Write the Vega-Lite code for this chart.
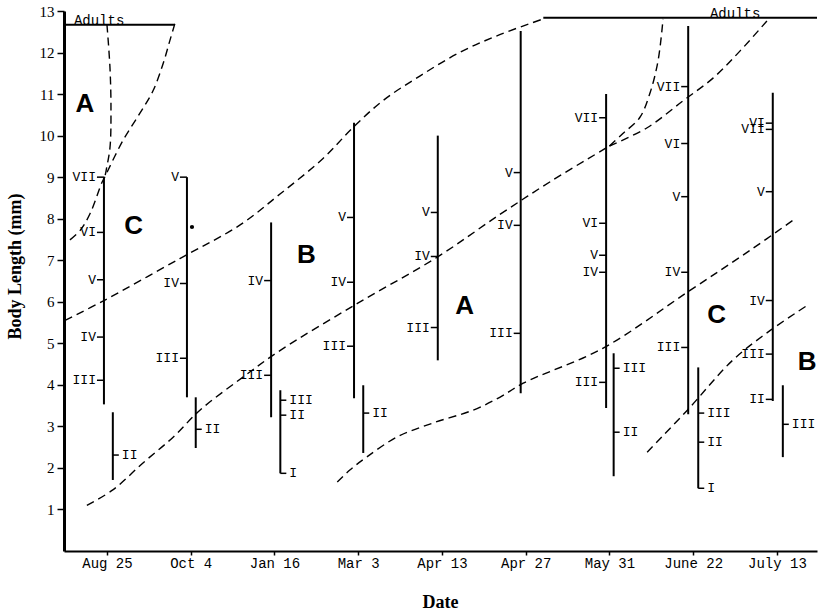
{
  "$schema": "https://vega.github.io/schema/vega-lite/v6.json",
  "width": 753,
  "height": 540,
  "autosize": {"type": "none"},
  "padding": {"left": 64, "top": 11, "right": 12, "bottom": 59},
  "background": "white",
  "config": {
    "view": {"stroke": null},
    "axis": {"grid": false, "domainColor": "black", "tickColor": "black", "labelColor": "black", "titleColor": "black", "labelFlush": false, "labelOverlap": false, "labelBound": false},
    "axisX": {
      "labelFont": "Liberation Mono", "labelFontSize": 14, "labelPadding": 1,
      "tickSize": 4, "tickWidth": 1.5, "domainWidth": 2,
      "titleFont": "Liberation Serif", "titleFontSize": 18, "titleFontWeight": "bold",
      "titleX": 376, "titleY": 56, "titleBaseline": "alphabetic", "titleAlign": "center"
    },
    "axisY": {
      "labelFont": "Liberation Serif", "labelFontSize": 15, "labelPadding": 3,
      "tickSize": 7, "tickWidth": 1.5, "domainWidth": 3,
      "titleFont": "Liberation Serif", "titleFontSize": 18, "titleFontWeight": "bold",
      "titleAngle": -90, "titleX": -44, "titleY": 255, "titleBaseline": "alphabetic", "titleAlign": "center"
    }
  },
  "datasets": {
    "bars": [
      {"x": 0.964, "y1": 3.53, "y2": 9.0},
      {"x": 1.07, "y1": 1.71, "y2": 3.34},
      {"x": 1.955, "y1": 3.70, "y2": 9.0},
      {"x": 2.06, "y1": 2.48, "y2": 3.70},
      {"x": 2.96, "y1": 3.22, "y2": 7.91},
      {"x": 3.07, "y1": 1.87, "y2": 3.87},
      {"x": 3.95, "y1": 3.68, "y2": 10.31},
      {"x": 4.06, "y1": 2.36, "y2": 3.99},
      {"x": 4.95, "y1": 4.59, "y2": 10.0},
      {"x": 5.94, "y1": 3.80, "y2": 12.52},
      {"x": 6.96, "y1": 3.44, "y2": 11.0},
      {"x": 7.05, "y1": 1.80, "y2": 4.76},
      {"x": 7.94, "y1": 3.29, "y2": 12.64},
      {"x": 8.06, "y1": 1.51, "y2": 4.42},
      {"x": 8.95, "y1": 3.61, "y2": 11.03},
      {"x": 9.07, "y1": 2.26, "y2": 3.99}
    ],
    "ticks": [
      {"x": 0.964, "y": 9.0, "label": "VII", "side": "L"},
      {"x": 0.964, "y": 7.67, "label": "VI", "side": "L"},
      {"x": 0.964, "y": 6.53, "label": "V", "side": "L"},
      {"x": 0.964, "y": 5.15, "label": "IV", "side": "L"},
      {"x": 0.964, "y": 4.11, "label": "III", "side": "L"},
      {"x": 1.07, "y": 2.31, "label": "II", "side": "R"},
      {"x": 1.955, "y": 9.0, "label": "V", "side": "L"},
      {"x": 1.955, "y": 6.44, "label": "IV", "side": "L"},
      {"x": 1.955, "y": 4.64, "label": "III", "side": "L"},
      {"x": 2.06, "y": 2.93, "label": "II", "side": "R"},
      {"x": 2.96, "y": 6.51, "label": "IV", "side": "L"},
      {"x": 2.96, "y": 4.23, "label": "III", "side": "L"},
      {"x": 3.07, "y": 3.63, "label": "III", "side": "R"},
      {"x": 3.07, "y": 3.27, "label": "II", "side": "R"},
      {"x": 3.07, "y": 1.87, "label": "I", "side": "R"},
      {"x": 3.95, "y": 8.03, "label": "V", "side": "L"},
      {"x": 3.95, "y": 6.47, "label": "IV", "side": "L"},
      {"x": 3.95, "y": 4.93, "label": "III", "side": "L"},
      {"x": 4.06, "y": 3.32, "label": "II", "side": "R"},
      {"x": 4.95, "y": 8.15, "label": "V", "side": "L"},
      {"x": 4.95, "y": 7.09, "label": "IV", "side": "L"},
      {"x": 4.95, "y": 5.38, "label": "III", "side": "L"},
      {"x": 5.94, "y": 9.11, "label": "V", "side": "L"},
      {"x": 5.94, "y": 7.84, "label": "IV", "side": "L"},
      {"x": 5.94, "y": 5.24, "label": "III", "side": "L"},
      {"x": 6.96, "y": 10.43, "label": "VII", "side": "L"},
      {"x": 6.96, "y": 7.89, "label": "VI", "side": "L"},
      {"x": 6.96, "y": 7.12, "label": "V", "side": "L"},
      {"x": 6.96, "y": 6.71, "label": "IV", "side": "L"},
      {"x": 6.96, "y": 4.06, "label": "III", "side": "L"},
      {"x": 7.05, "y": 4.40, "label": "III", "side": "R"},
      {"x": 7.05, "y": 2.86, "label": "II", "side": "R"},
      {"x": 7.94, "y": 11.18, "label": "VII", "side": "L"},
      {"x": 7.94, "y": 9.81, "label": "VI", "side": "L"},
      {"x": 7.94, "y": 8.53, "label": "V", "side": "L"},
      {"x": 7.94, "y": 6.71, "label": "IV", "side": "L"},
      {"x": 7.94, "y": 4.90, "label": "III", "side": "L"},
      {"x": 8.06, "y": 3.32, "label": "III", "side": "R"},
      {"x": 8.06, "y": 2.62, "label": "II", "side": "R"},
      {"x": 8.06, "y": 1.51, "label": "I", "side": "R"},
      {"x": 8.95, "y": 10.30, "label": "VI", "side": "L"},
      {"x": 8.95, "y": 10.15, "label": "VII", "side": "L"},
      {"x": 8.95, "y": 8.65, "label": "V", "side": "L"},
      {"x": 8.95, "y": 6.03, "label": "IV", "side": "L"},
      {"x": 8.95, "y": 4.74, "label": "III", "side": "L"},
      {"x": 8.95, "y": 3.65, "label": "II", "side": "L"},
      {"x": 9.07, "y": 3.05, "label": "III", "side": "R"}
    ],
    "curves": [
      {"curve": "a1", "i": 1, "x": 1.0, "y": 12.67},
      {"curve": "a1", "i": 2, "x": 1.036, "y": 11.63},
      {"curve": "a1", "i": 3, "x": 1.048, "y": 10.6},
      {"curve": "a1", "i": 4, "x": 1.036, "y": 9.71},
      {"curve": "a1", "i": 5, "x": 0.99, "y": 9.16},
      {"curve": "a1", "i": 6, "x": 0.976, "y": 9.01},
      {"curve": "a2", "i": 1, "x": 1.81, "y": 12.69},
      {"curve": "a2", "i": 2, "x": 1.75, "y": 12.28},
      {"curve": "a2", "i": 3, "x": 1.67, "y": 11.73},
      {"curve": "a2", "i": 4, "x": 1.55, "y": 11.08},
      {"curve": "a2", "i": 5, "x": 1.39, "y": 10.53},
      {"curve": "a2", "i": 6, "x": 1.19, "y": 9.88},
      {"curve": "a2", "i": 7, "x": 0.976, "y": 9.01},
      {"curve": "a3", "i": 1, "x": 0.976, "y": 9.01},
      {"curve": "a3", "i": 2, "x": 0.94, "y": 8.87},
      {"curve": "a3", "i": 3, "x": 0.80, "y": 8.13},
      {"curve": "a3", "i": 4, "x": 0.68, "y": 7.72},
      {"curve": "a3", "i": 5, "x": 0.52, "y": 7.43},
      {"curve": "u", "i": 1, "x": 0.50, "y": 5.55},
      {"curve": "u", "i": 2, "x": 0.964, "y": 6.03},
      {"curve": "u", "i": 3, "x": 1.87, "y": 7.04},
      {"curve": "u", "i": 4, "x": 2.59, "y": 7.85},
      {"curve": "u", "i": 5, "x": 3.07, "y": 8.6},
      {"curve": "u", "i": 6, "x": 3.58, "y": 9.45},
      {"curve": "u", "i": 7, "x": 3.94, "y": 10.2},
      {"curve": "u", "i": 8, "x": 4.3, "y": 10.85},
      {"curve": "u", "i": 9, "x": 4.74, "y": 11.44},
      {"curve": "u", "i": 10, "x": 5.21, "y": 12.0},
      {"curve": "u", "i": 11, "x": 5.69, "y": 12.43},
      {"curve": "u", "i": 12, "x": 6.21, "y": 12.81},
      {"curve": "m", "i": 1, "x": 0.76, "y": 1.1},
      {"curve": "m", "i": 2, "x": 1.07, "y": 1.47},
      {"curve": "m", "i": 3, "x": 1.43, "y": 2.12},
      {"curve": "m", "i": 4, "x": 1.79, "y": 2.74},
      {"curve": "m", "i": 5, "x": 2.11, "y": 3.39},
      {"curve": "m", "i": 6, "x": 2.62, "y": 4.18},
      {"curve": "m", "i": 7, "x": 3.07, "y": 4.83},
      {"curve": "m", "i": 8, "x": 3.99, "y": 5.96},
      {"curve": "m", "i": 9, "x": 4.94, "y": 7.07},
      {"curve": "m", "i": 10, "x": 5.69, "y": 8.1},
      {"curve": "m", "i": 11, "x": 6.3, "y": 8.9},
      {"curve": "m", "i": 12, "x": 7.0, "y": 9.75},
      {"curve": "m1", "i": 1, "x": 7.0, "y": 9.75},
      {"curve": "m1", "i": 2, "x": 7.16, "y": 10.05},
      {"curve": "m1", "i": 3, "x": 7.36, "y": 10.43},
      {"curve": "m1", "i": 4, "x": 7.48, "y": 11.0},
      {"curve": "m1", "i": 5, "x": 7.58, "y": 11.8},
      {"curve": "m1", "i": 6, "x": 7.64, "y": 12.81},
      {"curve": "m2", "i": 1, "x": 7.0, "y": 9.75},
      {"curve": "m2", "i": 2, "x": 7.45, "y": 10.19},
      {"curve": "m2", "i": 3, "x": 7.88, "y": 10.84},
      {"curve": "m2", "i": 4, "x": 8.24, "y": 11.39},
      {"curve": "m2", "i": 5, "x": 8.56, "y": 12.04},
      {"curve": "m2", "i": 6, "x": 8.88, "y": 12.76},
      {"curve": "l", "i": 1, "x": 3.75, "y": 1.66},
      {"curve": "l", "i": 2, "x": 3.90, "y": 1.95},
      {"curve": "l", "i": 3, "x": 4.10, "y": 2.26},
      {"curve": "l", "i": 4, "x": 4.46, "y": 2.74},
      {"curve": "l", "i": 5, "x": 4.89, "y": 3.08},
      {"curve": "l", "i": 6, "x": 5.37, "y": 3.39},
      {"curve": "l", "i": 7, "x": 5.69, "y": 3.70},
      {"curve": "l", "i": 8, "x": 5.97, "y": 4.04},
      {"curve": "l", "i": 9, "x": 6.92, "y": 4.88},
      {"curve": "l", "i": 10, "x": 7.93, "y": 6.23},
      {"curve": "l", "i": 11, "x": 8.68, "y": 7.24},
      {"curve": "l", "i": 12, "x": 9.19, "y": 7.96},
      {"curve": "r", "i": 1, "x": 7.45, "y": 2.38},
      {"curve": "r", "i": 2, "x": 7.93, "y": 3.39},
      {"curve": "r", "i": 3, "x": 8.47, "y": 4.59},
      {"curve": "r", "i": 4, "x": 8.92, "y": 5.31},
      {"curve": "r", "i": 5, "x": 9.36, "y": 5.91}
    ],
    "adults": [
      {"x": 0.487, "x2": 1.81, "y": 12.67, "tx": 0.606, "label": "Adults"},
      {"x": 6.21, "x2": 9.478, "y": 12.84, "tx": 8.2, "label": "Adults"}
    ],
    "letters": [
      {"x": 0.737, "y": 10.76, "label": "A"},
      {"x": 1.32, "y": 7.82, "label": "C"},
      {"x": 3.38, "y": 7.13, "label": "B"},
      {"x": 5.27, "y": 5.90, "label": "A"},
      {"x": 8.28, "y": 5.68, "label": "C"},
      {"x": 9.36, "y": 4.55, "label": "B"}
    ],
    "blob": [{"x": 2.015, "y": 7.80}]
  },
  "layer": [
    {
      "data": {"name": "bars"},
      "mark": {"type": "rule", "strokeWidth": 2, "color": "black"},
      "encoding": {
        "x": {"field": "x", "type": "quantitative", "title": "Date",
          "scale": {"domain": [0.487, 9.478], "nice": false, "zero": false},
          "axis": {"values": [1, 2, 3, 4, 5, 6, 7, 8, 9],
            "labelExpr": "['Aug 25','Oct 4','Jan 16','Mar 3','Apr 13','Apr 27','May 31','June 22','July 13'][datum.value - 1]"}},
        "y": {"field": "y1", "type": "quantitative", "title": "Body Length (mm)",
          "scale": {"domain": [0, 13], "nice": false, "zero": false},
          "axis": {"values": [1, 2, 3, 4, 5, 6, 7, 8, 9, 10, 11, 12, 13]}},
        "y2": {"field": "y2"}
      }
    },
    {
      "data": {"name": "ticks"},
      "transform": [{"filter": "datum.side == 'L'"}],
      "mark": {"type": "rule", "strokeWidth": 1.5, "color": "black", "x2Offset": -7},
      "encoding": {
        "x": {"field": "x", "type": "quantitative", "title": "Date"},
        "x2": {"field": "x"},
        "y": {"field": "y", "type": "quantitative", "title": "Body Length (mm)"}
      }
    },
    {
      "data": {"name": "ticks"},
      "transform": [{"filter": "datum.side == 'R'"}],
      "mark": {"type": "rule", "strokeWidth": 1.5, "color": "black", "x2Offset": 6},
      "encoding": {
        "x": {"field": "x", "type": "quantitative", "title": "Date"},
        "x2": {"field": "x"},
        "y": {"field": "y", "type": "quantitative", "title": "Body Length (mm)"}
      }
    },
    {
      "data": {"name": "ticks"},
      "transform": [{"filter": "datum.side == 'L'"}],
      "mark": {"type": "text", "align": "right", "baseline": "middle", "dx": -8, "font": "Liberation Mono", "fontSize": 13, "color": "black"},
      "encoding": {
        "x": {"field": "x", "type": "quantitative", "title": "Date"},
        "y": {"field": "y", "type": "quantitative", "title": "Body Length (mm)"},
        "text": {"field": "label"}
      }
    },
    {
      "data": {"name": "ticks"},
      "transform": [{"filter": "datum.side == 'R'"}],
      "mark": {"type": "text", "align": "left", "baseline": "middle", "dx": 9, "font": "Liberation Mono", "fontSize": 13, "color": "black"},
      "encoding": {
        "x": {"field": "x", "type": "quantitative", "title": "Date"},
        "y": {"field": "y", "type": "quantitative", "title": "Body Length (mm)"},
        "text": {"field": "label"}
      }
    },
    {
      "data": {"name": "curves"},
      "mark": {"type": "line", "color": "black", "strokeWidth": 1.4, "strokeDash": [8, 5], "interpolate": "catmull-rom"},
      "encoding": {
        "x": {"field": "x", "type": "quantitative", "title": "Date"},
        "y": {"field": "y", "type": "quantitative", "title": "Body Length (mm)"},
        "detail": {"field": "curve"},
        "order": {"field": "i", "type": "quantitative"}
      }
    },
    {
      "data": {"name": "adults"},
      "mark": {"type": "rule", "strokeWidth": 2, "color": "black"},
      "encoding": {
        "x": {"field": "x", "type": "quantitative", "title": "Date"},
        "x2": {"field": "x2"},
        "y": {"field": "y", "type": "quantitative", "title": "Body Length (mm)"}
      }
    },
    {
      "data": {"name": "adults"},
      "mark": {"type": "text", "align": "left", "baseline": "alphabetic", "dy": 0, "font": "Liberation Mono", "fontSize": 14, "color": "black"},
      "encoding": {
        "x": {"field": "tx", "type": "quantitative", "title": "Date"},
        "y": {"field": "y", "type": "quantitative", "title": "Body Length (mm)"},
        "text": {"field": "label"}
      }
    },
    {
      "data": {"name": "letters"},
      "mark": {"type": "text", "align": "center", "baseline": "middle", "font": "Liberation Sans", "fontWeight": "bold", "fontSize": 26, "color": "black"},
      "encoding": {
        "x": {"field": "x", "type": "quantitative", "title": "Date"},
        "y": {"field": "y", "type": "quantitative", "title": "Body Length (mm)"},
        "text": {"field": "label"}
      }
    },
    {
      "data": {"name": "blob"},
      "mark": {"type": "point", "filled": true, "color": "black", "size": 18, "opacity": 1},
      "encoding": {
        "x": {"field": "x", "type": "quantitative", "title": "Date"},
        "y": {"field": "y", "type": "quantitative", "title": "Body Length (mm)"}
      }
    }
  ]
}
